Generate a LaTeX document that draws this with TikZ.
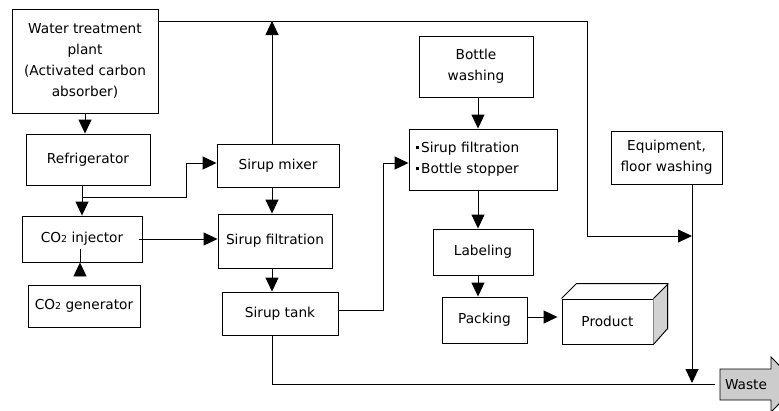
\documentclass[tikz,border=0pt]{standalone}
\usepackage{fontspec}
\setmainfont{DejaVu Sans}
\usetikzlibrary{arrows.meta}
\newcommand\diagfont{\fontsize{13.7}{21}\selectfont}
\newcommand\smalltwo{{\fontsize{9.5}{9.5}\selectfont 2}}
\newcommand\itemdot{\raisebox{3.6pt}{\rule{2.7pt}{2.7pt}}\hspace{2.4pt}}
\begin{document}
\begin{tikzpicture}[x=1pt,y=-1pt,line width=0.9pt,font=\diagfont,
  box/.style={draw,rectangle,inner sep=0pt,align=center},
  flow/.style={-{Triangle[length=14pt,width=13pt]}}]
\useasboundingbox (0,0) rectangle (779,410);
\fill[white] (0,0) rectangle (779,410);

% process boxes
\node[box,minimum width=146pt,minimum height=104pt] (wtp) at (85,61)
  {Water treatment\\plant\\(Activated carbon\\absorber)};
\node[box,minimum width=124pt,minimum height=51pt] (refr) at (88,159.5) {Refrigerator};
\node[box,minimum width=120pt,minimum height=46pt] (inj) at (82,239) {CO\smalltwo{} injector};
\node[box,minimum width=112pt,minimum height=42pt] (gen) at (84,306) {CO\smalltwo{} generator};
\node[box,minimum width=122pt,minimum height=43pt] (mixer) at (278,165.5) {Sirup mixer};
\node[box,minimum width=114pt,minimum height=54pt] (sfilt) at (275,241) {Sirup filtration};
\node[box,minimum width=116pt,minimum height=43pt] (tank) at (280,313.5) {Sirup tank};
\node[box,minimum width=114pt,minimum height=61pt] (bwash) at (476,66.5) {Bottle\\washing};
\node[box,minimum width=148pt,minimum height=61pt,align=left,text width=134pt] (fstop) at (483,159.5)
  {\itemdot Sirup filtration\\\itemdot Bottle stopper};
\node[box,minimum width=100pt,minimum height=46pt] (label) at (483,252) {Labeling};
\node[box,minimum width=85pt,minimum height=46pt] (pack) at (484.5,320) {Packing};
\node[box,minimum width=111pt,minimum height=53pt] (equip) at (666.5,157.5) {Equipment,\\floor washing};

% product crate
\node[box,minimum width=91pt,minimum height=45pt] (prod) at (607.5,321.5) {Product};
\fill[gray!35] (prod.north east) -- ++(15,-15) -- ++(0,45) -- (prod.south east) -- cycle;
\draw[line join=round] (prod.north west) -- ++(15,-15) -- ++(91,0) -- ++(0,45) -- (prod.south east);
\draw (prod.north east) -- ++(15,-15);

% waste outlet arrow
\begin{scope}
  \clip (0,0) rectangle (779,410);
  \draw[fill=gray!40] (720,369) -- (771,369) -- (771,357) -- (798,384.5)
    -- (771,412) -- (771,400) -- (720,400) -- cycle;
\end{scope}
\node (waste) at (746,384.5) {Waste};

% reference columns
\coordinate (colA) at (272,0);
\coordinate (colB) at (478,0);
\coordinate (colC) at (692,0);
\coordinate (top) at (0,21);
\coordinate (drain) at (0,384);

% water line along the top
\draw[flow] (wtp.east |- top) -- (587,21) -- (587,236) -- (colC |- 0,236);
\draw[flow] (colA |- mixer.north) -- (colA |- top);

% left chain
\draw[flow] (wtp.south) -- (wtp.south |- refr.north);
\draw[flow] (inj.north |- refr.south) -- (inj.north);
\coordinate (b1) at (inj.north |- 0,197);
\draw[flow] (b1) -- (186,197) -- (186,163) -- (mixer.west |- 0,163);
\draw[flow] ([xshift=-3pt]inj.east) -- (sfilt.west |- inj.east);
\draw[flow] (inj.south -| 80,0) -- (80,0 |- inj.south);

% sirup chain
\draw[flow] (colA |- mixer.south) -- (colA |- sfilt.north);
\draw[flow] (colA |- sfilt.south) -- (colA |- tank.north);
\draw[flow] (tank.east |- 0,310) -- (383,310) -- (383,163) -- (fstop.west |- 0,163);
\draw (colA |- tank.south) -- (colA |- drain) -- (715,384);

% bottling chain
\draw[flow] (colB |- bwash.south) -- (colB |- fstop.north);
\draw[flow] (colB |- fstop.south) -- (colB |- label.north);
\draw[flow] (colB |- label.south) -- (colB |- pack.north);
\draw[flow] (pack.east |- 0,317) -- ([xshift=-4pt]prod.west |- 0,317);

% washing water to waste
\draw[flow] (colC |- equip.south) -- (692,383);
\end{tikzpicture}
\end{document}
